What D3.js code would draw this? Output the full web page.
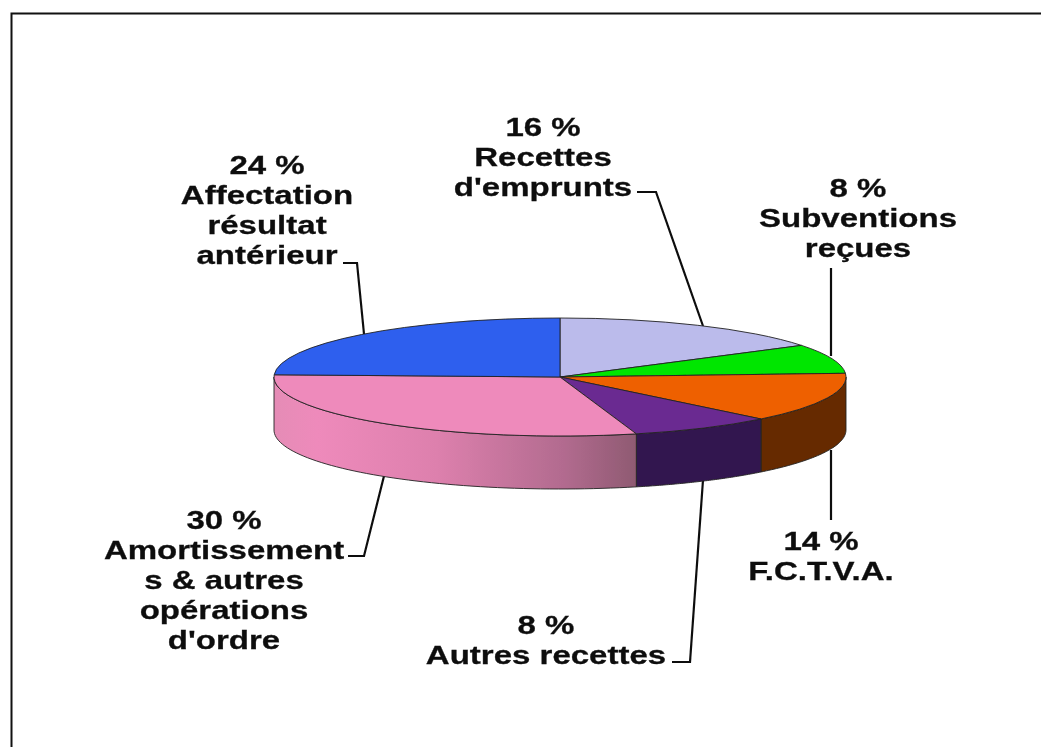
<!DOCTYPE html>
<html>
<head>
<meta charset="utf-8">
<style>
  html, body { margin: 0; padding: 0; background: #fff; }
  svg { display: block; }
  text { font-family: "Liberation Sans", Arial, sans-serif; font-weight: bold; font-size: 26px; fill: #111; stroke: #111; stroke-width: 0.3px; }
</style>
</head>
<body>
<svg id="chart" width="1041" height="747"></svg>
<script src="https://cdn.jsdelivr.net/npm/d3@7"></script>
<script>
// clockwise from the top of the pie
var categories = ["Recettes d'emprunts", "Subventions reçues", "F.C.T.V.A.", "Autres recettes",
  "Amortissements & autres opérations d'ordre", "Affectation résultat antérieur"];
// the labels show them rounded
var shares = [16, 8, 13.6, 8.1, 29.9, 24.4];
// the line breaks as they are in the picture
var labelLines = [
  ["Recettes", "d'emprunts"],
  ["Subventions", "reçues"],
  ["F.C.T.V.A."],
  ["Autres recettes"],
  ["Amortissement", "s & autres", "opérations", "d'ordre"],
  ["Affectation", "résultat", "antérieur"]
];
var topColors = ["#bbbbeb", "#00e600", "#ee6100", "#6b2c91", "#ee8abb", "#2d5fee"];
var sideColors = ["#5e5e76", "#007300", "#662b00", "#33174f", "url(#pinkSide)", "#173078"];

var W = 1041, H = 747;
var cx = 560, cy = 377, rx = 286, ry = 59, depth = 53;
var textStretch = 1.27;

// where each label and its leader line sit, same order as categories
var labelPos = [
  { x: 543, y: 126, leader: [[637, 192], [656, 192], [703, 326]] },
  { x: 858, y: 187, leader: [[831, 268], [831, 356]] },
  { x: 821, y: 540, leader: [[831, 450], [831, 520]] },
  { x: 546, y: 624, leader: [[672, 662], [690, 662], [703, 480]] },
  { x: 224, y: 519, leader: [[348, 556], [364, 556], [384, 476]] },
  { x: 267, y: 164, leader: [[343, 263], [357, 263], [364, 334]] }
];
var lineGap = 30;

var svg = d3.select("#chart");

var defs = svg.append("defs");
// the reference is a soft, upscaled picture
defs.append("filter")
  .attr("id", "soft")
  .append("feGaussianBlur")
  .attr("stdDeviation", 0.5);
var grad = defs.append("linearGradient")
  .attr("id", "pinkSide")
  .attr("gradientUnits", "userSpaceOnUse")
  .attr("x1", cx - rx).attr("x2", 636)
  .attr("y1", 0).attr("y2", 0);
grad.append("stop").attr("offset", "0").attr("stop-color", "#e58cb6");
grad.append("stop").attr("offset", "0.12").attr("stop-color", "#ee8abb");
grad.append("stop").attr("offset", "0.45").attr("stop-color", "#dd80ad");
grad.append("stop").attr("offset", "0.8").attr("stop-color", "#b26b8f");
grad.append("stop").attr("offset", "1").attr("stop-color", "#8f5a72");

// frame
svg.append("path")
  .attr("d", "M11.5," + H + "V13.5H" + W)
  .attr("fill", "none")
  .attr("stroke", "#111")
  .attr("stroke-width", 2);

// filter goes on the group, a straight vertical path has an empty bbox
var lineGen = d3.line();
svg.append("g")
  .attr("filter", "url(#soft)")
  .selectAll("path")
  .data(labelPos)
  .enter()
  .append("path")
  .attr("d", function (d) { return lineGen(d.leader); })
  .attr("fill", "none")
  .attr("stroke", "#111")
  .attr("stroke-width", 2.2);

var pie = d3.pie().sort(null).startAngle(0).endAngle(2 * Math.PI);
var slices = pie(shares);

// side wall: only the front half of the ellipse shows
var wall = d3.area()
  .x(function (a) { return cx + rx * Math.sin(a); })
  .y0(function (a) { return cy - ry * Math.cos(a); })
  .y1(function (a) { return cy - ry * Math.cos(a) + depth; });

function wallAngles(d) {
  var a0 = Math.max(d.startAngle, Math.PI / 2);
  var a1 = Math.min(d.endAngle, 3 * Math.PI / 2);
  if (a1 <= a0) return null;
  return d3.range(0, 61).map(function (i) { return a0 + (a1 - a0) * i / 60; });
}

var pieGroup = svg.append("g").attr("filter", "url(#soft)");

pieGroup.append("g").selectAll("path")
  .data(slices.filter(function (d) { return wallAngles(d) !== null; }))
  .enter()
  .append("path")
  .attr("d", function (d) { return wall(wallAngles(d)); })
  .attr("fill", function (d) { return sideColors[d.index]; })
  .attr("stroke", "#222")
  .attr("stroke-width", 0.9);

// top face: a plain d3 arc squashed into an ellipse
var arc = d3.arc().innerRadius(0).outerRadius(rx);
pieGroup.append("g")
  .attr("transform", "translate(" + cx + "," + cy + ") scale(1," + (ry / rx) + ")")
  .selectAll("path")
  .data(slices)
  .enter()
  .append("path")
  .attr("d", arc)
  .attr("fill", function (d) { return topColors[d.index]; })
  .attr("stroke", "#222")
  .attr("stroke-width", 0.9)
  .attr("vector-effect", "non-scaling-stroke");

var labels = svg.append("g").selectAll("text")
  .data(slices)
  .enter()
  .append("text")
  .attr("text-anchor", "middle")
  .attr("dominant-baseline", "central")
  .attr("filter", "url(#soft)")
  .attr("transform", function (d) {
    return "translate(" + labelPos[d.index].x + ",0) scale(" + textStretch + ",1)";
  });

labels.each(function (d) {
  var pos = labelPos[d.index];
  var lines = [Math.round(shares[d.index]) + " %"].concat(labelLines[d.index]);
  d3.select(this).selectAll("tspan")
    .data(lines)
    .enter()
    .append("tspan")
    .attr("x", 0)
    .attr("y", function (t, i) { return pos.y + i * lineGap; })
    .text(function (t) { return t; });
});
</script>
</body>
</html>
